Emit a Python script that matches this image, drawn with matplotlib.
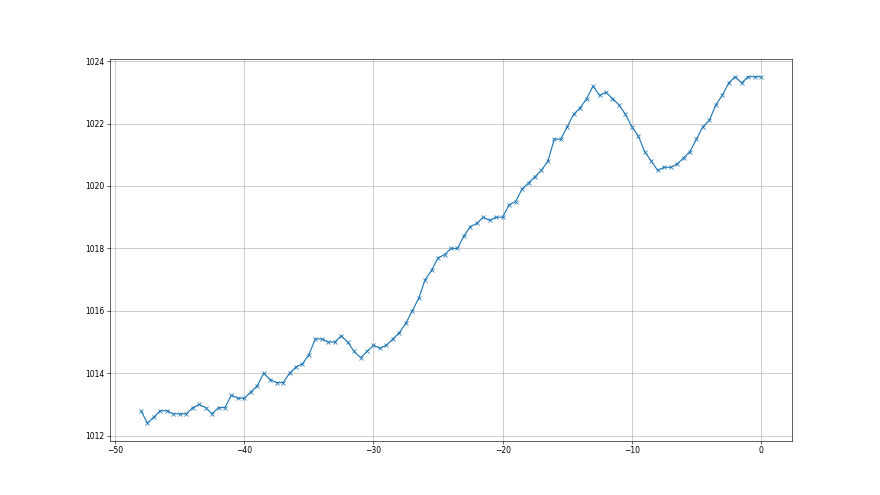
import numpy as np
import matplotlib
matplotlib.use("Agg")
import matplotlib.pyplot as plt

# time offsets (half-step) and pressure readings
x = np.arange(-48, 0.5, 0.5)
pressure = [
    1012.8, 1012.4, 1012.6, 1012.8, 1012.8, 1012.7, 1012.7, 1012.7, 1012.9, 1013.0,
    1012.9, 1012.7, 1012.9, 1012.9, 1013.3, 1013.2, 1013.2, 1013.4, 1013.6, 1014.0,
    1013.8, 1013.7, 1013.7, 1014.0, 1014.2, 1014.3, 1014.6, 1015.1, 1015.1, 1015.0,
    1015.0, 1015.2, 1015.0, 1014.7, 1014.5, 1014.7, 1014.9, 1014.8, 1014.9, 1015.1,
    1015.3, 1015.6, 1016.0, 1016.4, 1017.0, 1017.3, 1017.7, 1017.8, 1018.0, 1018.0,
    1018.4, 1018.7, 1018.8, 1019.0, 1018.9, 1019.0, 1019.0, 1019.4, 1019.5, 1019.9,
    1020.1, 1020.3, 1020.5, 1020.8, 1021.5, 1021.5, 1021.9, 1022.3, 1022.5, 1022.8,
    1023.2, 1022.9, 1023.0, 1022.8, 1022.6, 1022.3, 1021.9, 1021.6, 1021.1, 1020.8,
    1020.5, 1020.6, 1020.6, 1020.7, 1020.9, 1021.1, 1021.5, 1021.9, 1022.1, 1022.6,
    1022.9, 1023.3, 1023.5, 1023.3, 1023.5, 1023.5, 1023.5,
]

fig = plt.figure(figsize=(16, 9), dpi=55)
plt.plot(x, pressure, marker='x')
plt.grid(True)
plt.savefig("out.png", dpi=55)
